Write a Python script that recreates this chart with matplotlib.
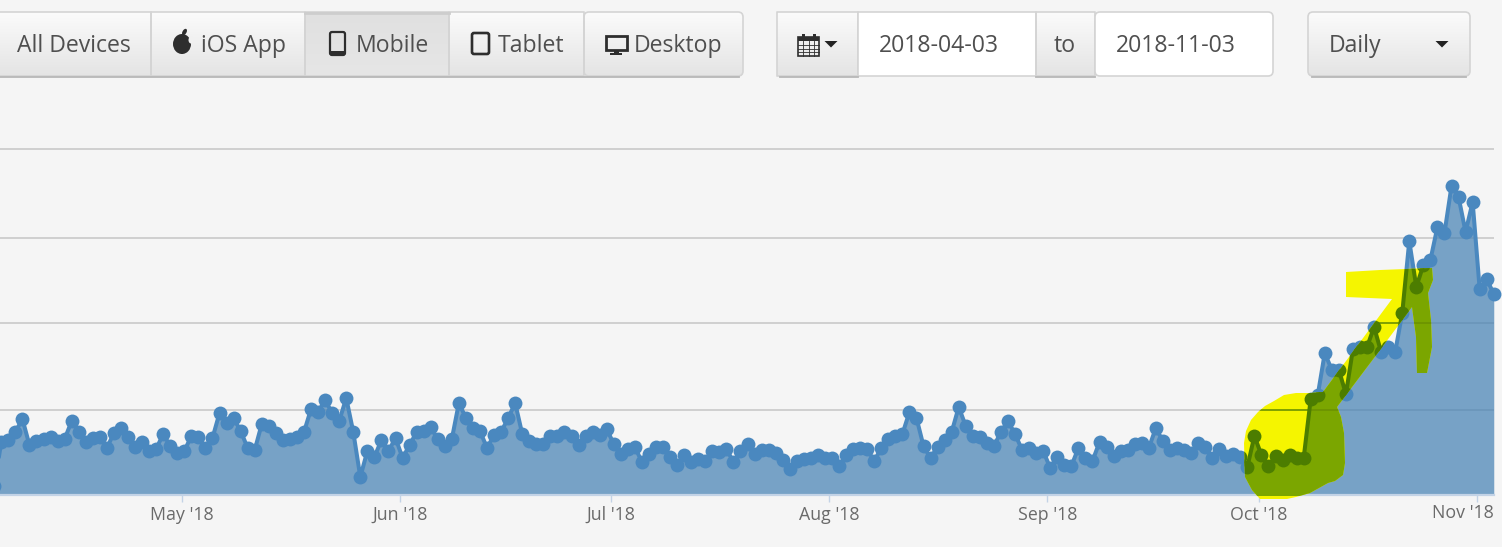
import numpy as np
import pandas as pd
import matplotlib
matplotlib.use("Agg")
import matplotlib.pyplot as plt
import matplotlib.dates as mdates
from matplotlib.patches import FancyBboxPatch, Polygon, Rectangle, Ellipse

# daily values, 2018-04-04 to 2018-11-03 (y axis has no labels in the original)
apr = [9, 53, 55, 63, 76, 50, 54, 56, 58, 54, 56, 74, 63, 53, 57, 58, 47, 62, 67, 58, 48, 53, 44, 46, 61, 49, 42]
may = [44, 59, 58, 47, 57, 82, 72, 77, 64, 47, 45, 71, 69, 62, 55, 56, 58, 63, 86, 83, 95, 82, 74, 97, 63, 18, 44,
       38, 55, 44, 57]
jun = [37, 50, 63, 64, 68, 56, 49, 56, 92, 77, 67, 64, 47, 60, 63, 77, 92, 61, 54, 51, 51, 59, 59, 63, 59, 50, 59,
       63, 60, 66]
jul = [51, 41, 46, 48, 33, 41, 48, 48, 38, 30, 40, 33, 36, 34, 44, 43, 46, 33, 44, 51, 41, 45, 45, 42, 35, 26, 34,
       36, 37, 40, 37]
aug = [37, 29, 40, 46, 47, 46, 34, 47, 56, 59, 61, 83, 77, 49, 37, 48, 55, 63, 88, 69, 59, 58, 52, 49, 63, 74, 61,
       45, 47, 42, 44]
sep = [27, 38, 30, 29, 47, 37, 34, 53, 48, 39, 44, 45, 51, 52, 47, 67, 54, 45, 47, 45, 42, 52, 48, 37, 46, 39, 41,
       38, 28, 59]
oct_ = [40, 29, 39, 35, 40, 37, 37, 96, 100, 142, 125, 125, 101, 146, 148, 148, 168, 143, 148, 143, 182, 254, 208,
        230, 235, 268, 262, 309, 298, 263, 293]
nov = [206, 216, 201]
values = apr + may + jun + jul + aug + sep + oct_ + nov
dates = pd.date_range("2018-04-04", periods=len(values), freq="D") + pd.Timedelta(hours=9.6)
grid_levels = [85, 172, 257, 346]
month_starts = pd.to_datetime(["2018-05-01", "2018-06-01", "2018-07-01", "2018-08-01", "2018-09-01",
                               "2018-10-01", "2018-11-01"])
month_labels = ["May '18", "Jun '18", "Jul '18", "Aug '18", "Sep '18", "Oct '18", "Nov '18"]

LINE = "#4a88bf"
FILL = "#4682b4"
BG = "#f5f5f5"
TEXT = "#4f4f4f"
FONT = "Open Sans"
MS = 10
LW = 2.9
TICK_FS = 12.8

fig = plt.figure(figsize=(15.02, 5.47), dpi=100, facecolor=BG)
ax = fig.add_axes([0, 0, 1, 1], facecolor=BG)

day_px = 7.04
may1 = mdates.date2num(month_starts[0])
ax.set_xlim(may1 - 181.5 / day_px, may1 + (1502 - 181.5) / day_px)
ax.set_ylim(-52, 495)

ax.hlines(grid_levels, ax.get_xlim()[0], dates[-1], color="#c9c9c9", lw=1.2, zorder=1)
ax.fill_between(dates, values, 0, color=FILL, alpha=0.72, lw=0, zorder=2)
ax.plot(dates, values, color=LINE, lw=LW, marker="o", ms=MS, mew=0, zorder=3)

for s in ["top", "left", "right"]:
    ax.spines[s].set_visible(False)
ax.spines["bottom"].set_position(("data", 0))
ax.spines["bottom"].set_color("#c3d3e6")
ax.spines["bottom"].set_linewidth(1.6)
ax.spines["bottom"].set_bounds(ax.get_xlim()[0], mdates.date2num(dates[-1]))
ax.set_yticks([])
# the last label is pushed left of its tick so it stays inside the chart
ax.set_xticks(month_starts, month_labels[:-1] + [""])
ax.tick_params(axis="x", length=5, width=1, color="#c3d3e6", labelcolor="#6a6a6a", labelsize=TICK_FS, pad=3)
for t in ax.get_xticklabels():
    t.set_fontfamily(FONT)
ax.annotate(month_labels[-1], xy=(month_starts[-1], 0), xytext=(12.5, -6.6), textcoords="offset points",
            ha="right", va="top", fontsize=TICK_FS, family=FONT, color="#6a6a6a", annotation_clip=False)

# overlay in pixel coordinates for the toolbar and the highlighter scribble
px = fig.add_axes([0, 0, 1, 1], facecolor="none")
px.set_axis_off()


def set_px_limits():
    px.set_xlim(0, 1502)
    px.set_ylim(547, 0)


set_px_limits()

scribble = [(1346, 272), (1380, 270), (1432, 268), (1433, 280), (1428, 293), (1431, 320), (1432, 347),
            (1427, 373), (1417, 373), (1416, 337), (1412, 307), (1380, 350), (1337, 407), (1341, 417),
            (1344, 433), (1345, 463), (1343, 475), (1335, 481), (1328, 483), (1310, 493), (1296, 497),
            (1287, 499), (1260, 499), (1252, 490), (1245, 477), (1244, 443), (1246, 431), (1251, 420),
            (1258, 412), (1265, 406), (1274, 401), (1284, 395), (1296, 393), (1310, 393), (1323, 392),
            (1392, 299), (1346, 297)]
mark = Polygon(scribble, closed=True, fc="#f5f500", ec="none", transform=px.transData, zorder=4)
ax.add_patch(mark)
olive = ax.fill_between(dates, values, 0, color="#7ba600", lw=0, zorder=5)
olive.set_clip_path(mark)
g = ax.hlines(grid_levels, ax.get_xlim()[0], dates[-1], color="#6c9200", lw=1.2, zorder=5.5)
g.set_clip_path(mark)
dark, = ax.plot(dates, values, color="#4c7d00", lw=LW, marker="o", ms=MS, mew=0, zorder=6)
dark.set_clip_path(mark)


def button(x0, x1, pressed=False, white=False, r=0):
    box = FancyBboxPatch((x0, 12), x1 - x0, 64, boxstyle=f"round,pad=0,rounding_size={max(r, 0.01)}",
                         fc="white" if white else "none", ec="#d4d4d4", lw=1.2, zorder=2)
    px.add_patch(box)
    if white:
        return
    top, bottom = ("#e0e0e0", "#e6e6e6") if pressed else ("#fbfbfb", "#e4e4e4")
    c0 = np.array(matplotlib.colors.to_rgb(top))
    c1 = np.array(matplotlib.colors.to_rgb(bottom))
    grad = c0 + (c1 - c0) * np.linspace(0, 1, 64)[:, None]
    im = px.imshow(grad[:, None, :], extent=(x0, x1, 76, 12), aspect="auto", zorder=1)
    im.set_clip_path(box)
    set_px_limits()


# device buttons
for x0, x1, p in [(-10, 151, False), (151, 305, False), (305, 449, True), (449, 584, False), (584, 743, False)]:
    button(x0, x1, pressed=p, r=5 if x1 == 743 else 0.01)
button(777, 858, r=0.01)
button(858, 1036, white=True)
button(1036, 1095)
button(1095, 1273, white=True, r=5)
button(1308, 1470, r=5)
# darker bottom edge of the buttons
for x0, x1 in [(0, 739), (780, 858), (1036, 1095), (1312, 1466)]:
    px.plot([x0, x1], [76.5, 76.5], color="#b7b7b7", lw=1.3, zorder=3)
px.plot([305, 449], [13, 13], color="#cdcdcd", lw=2, zorder=3)

labels = [("All Devices", 17), ("iOS App", 201), ("Mobile", 356), ("Tablet", 498), ("Desktop", 634),
          ("2018-04-03", 879), ("to", 1054), ("2018-11-03", 1116), ("Daily", 1329)]
for s, x in labels:
    px.text(x, 46.5, s, ha="left", va="center", fontsize=16.6, family=FONT, color=TEXT, zorder=4)

ICON = "#2e2e2e"
# apple
px.add_patch(Ellipse((182, 44), 18, 20, fc=ICON, ec="none", zorder=4))
px.add_patch(Ellipse((191, 40), 5, 7, fc="#f1f1f1", ec="none", zorder=4))
px.add_patch(Ellipse((184.5, 32), 4, 7, angle=30, fc=ICON, ec="none", zorder=4))
# phone
px.add_patch(FancyBboxPatch((330, 32), 15, 23, boxstyle="round,pad=0,rounding_size=2", fc="none", ec=ICON, lw=1.6, zorder=4))
px.add_patch(Rectangle((330, 51), 15, 4, fc=ICON, ec="none", zorder=4))
# tablet
px.add_patch(FancyBboxPatch((472, 33), 17, 21, boxstyle="round,pad=0,rounding_size=2", fc="none", ec=ICON, lw=1.9, zorder=4))
# desktop
px.add_patch(Rectangle((606, 36), 21, 14, fc="none", ec=ICON, lw=2, zorder=4))
px.add_patch(Rectangle((614, 50), 4.5, 4, fc=ICON, ec="none", zorder=4))
px.add_patch(Rectangle((610, 53), 12, 1.8, fc=ICON, ec="none", zorder=4))
# calendar
px.add_patch(Rectangle((798, 37), 21, 19, fc="none", ec=ICON, lw=1.2, zorder=4))
px.add_patch(Rectangle((798, 37), 21, 4, fc=ICON, ec="none", zorder=4))
for i in range(1, 4):
    px.plot([798 + i * 5.25] * 2, [41, 56], color=ICON, lw=0.6, zorder=4)
    px.plot([798, 819], [41 + i * 3.75] * 2, color=ICON, lw=0.6, zorder=4)
px.add_patch(Rectangle((802, 34), 2.5, 5, fc=ICON, ec="none", zorder=4))
px.add_patch(Rectangle((813, 34), 2.5, 5, fc=ICON, ec="none", zorder=4))
# carets
for cx in [831, 1442]:
    px.add_patch(Polygon([(cx - 6.5, 41), (cx + 6.5, 41), (cx, 47.5)], closed=True, fc="#222222", ec="none", zorder=4))

fig.savefig("out.png", dpi=100, facecolor=BG)
